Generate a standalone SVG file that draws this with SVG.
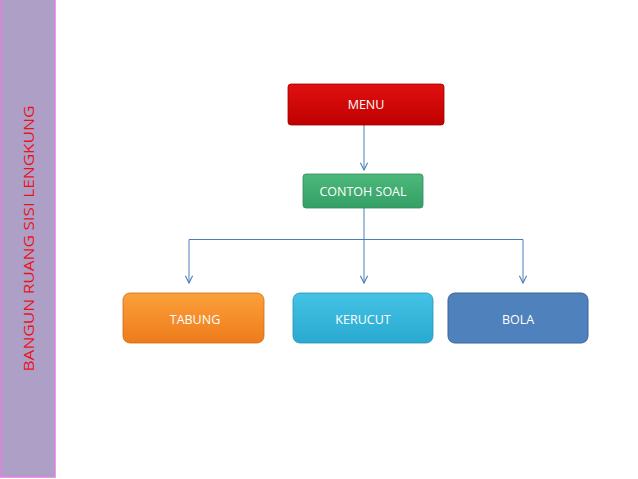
<svg xmlns="http://www.w3.org/2000/svg" width="638" height="479" viewBox="0 0 638 479">
<style>
.lbl{font-family:"Open Sans","Liberation Sans",sans-serif;font-size:12.5px;fill:#ffffff;text-anchor:middle;dominant-baseline:central}
.conn{stroke:#4a7ebb;stroke-width:1;fill:none}
</style>
<defs>
<marker id="arr" viewBox="0 0 10 10" refX="9" refY="5" markerWidth="9" markerHeight="9" markerUnits="userSpaceOnUse" orient="auto">
<path d="M1,1 L9,5 L1,9" fill="none" stroke="#4a7ebb" stroke-width="1.2"/>
</marker>
<linearGradient id="gRed" x1="0" y1="0" x2="0" y2="1"><stop offset="0" stop-color="#e01010"/><stop offset="1" stop-color="#c00000"/></linearGradient>
<linearGradient id="gGreen" x1="0" y1="0" x2="0" y2="1"><stop offset="0" stop-color="#4cb87a"/><stop offset="1" stop-color="#35a066"/></linearGradient>
<linearGradient id="gOrange" x1="0" y1="0" x2="0" y2="1"><stop offset="0" stop-color="#fba03a"/><stop offset="1" stop-color="#ee7b1c"/></linearGradient>
<linearGradient id="gCyan" x1="0" y1="0" x2="0" y2="1"><stop offset="0" stop-color="#45c3e6"/><stop offset="1" stop-color="#29a9cf"/></linearGradient>
</defs>
<rect width="638" height="479" fill="#ffffff"/>
<g id="sidebar">
<rect x="0.5" y="-1" width="54.5" height="478" fill="#ad9fc5" stroke="#e27fe0" stroke-width="1.5"/>
<text transform="translate(33.5,238.5) rotate(-90)" font-family="'Comic Sans MS','Open Sans','Liberation Sans',sans-serif" font-size="15" fill="#e8141c" text-anchor="middle" textLength="266" lengthAdjust="spacingAndGlyphs">BANGUN RUANG SISI LENGKUNG</text>
</g>
<g id="connectors">
<line class="conn" x1="364" y1="125" x2="364" y2="170" marker-end="url(#arr)"/>
<path class="conn" d="M364,208 V239.5 M189,239.5 H523"/>
<line class="conn" x1="189" y1="239.5" x2="189" y2="283" marker-end="url(#arr)"/>
<line class="conn" x1="364" y1="239.5" x2="364" y2="283" marker-end="url(#arr)"/>
<line class="conn" x1="523" y1="239.5" x2="523" y2="283" marker-end="url(#arr)"/>
</g>
<g id="menu">
<rect x="288" y="84" width="156" height="41" rx="3" fill="url(#gRed)" stroke="#a00000" stroke-width="0.8"/>
<text class="lbl" x="366" y="104">MENU</text>
</g>
<g id="contoh-soal">
<rect x="303" y="174" width="120" height="34" rx="3" fill="url(#gGreen)" stroke="#2e8c58" stroke-width="0.8"/>
<text class="lbl" x="363" y="191">CONTOH SOAL</text>
</g>
<g id="tabung">
<rect x="123" y="293" width="141" height="50" rx="7" fill="url(#gOrange)" stroke="#d06a10" stroke-width="0.8"/>
<text class="lbl" x="195" y="319">TABUNG</text>
</g>
<g id="kerucut">
<rect x="293" y="293" width="140" height="50" rx="7" fill="url(#gCyan)" stroke="#2592b5" stroke-width="0.8"/>
<text class="lbl" x="363" y="319">KERUCUT</text>
</g>
<g id="bola">
<rect x="448" y="293" width="140" height="50" rx="7" fill="#4f81bd" stroke="#38649a" stroke-width="1"/>
<text class="lbl" x="518" y="319">BOLA</text>
</g>
</svg>
